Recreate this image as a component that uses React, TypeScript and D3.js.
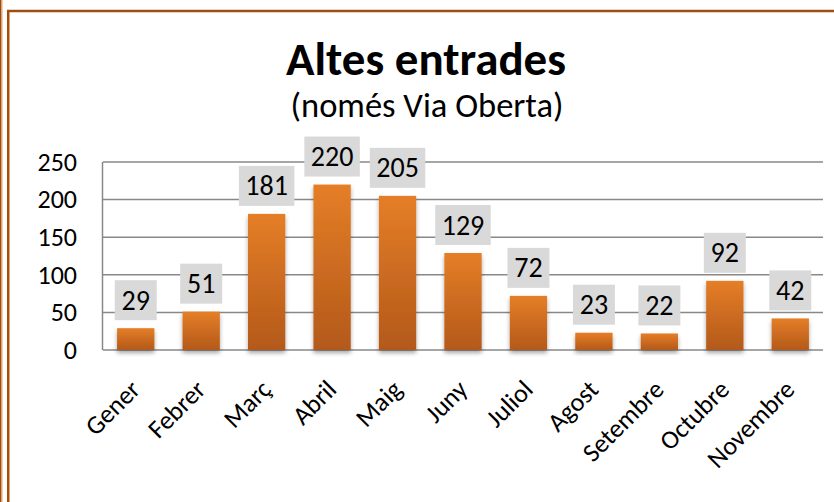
import React from "react";
import * as d3 from "d3";

const categories = ["Gener", "Febrer", "Març", "Abril", "Maig", "Juny", "Juliol", "Agost", "Setembre", "Octubre", "Novembre"];
const values = [29, 51, 181, 220, 205, 129, 72, 23, 22, 92, 42];
const yTicks = [0, 50, 100, 150, 200, 250];
const titleText = "Altes entrades";
const subtitleText = "(només Via Oberta)";

const W = 834;
const H = 502;
const FONT = "Carlito, Lato, 'Open Sans', sans-serif";

export default function App() {
  const x = d3.scaleBand<string>().domain(categories).range([103, 823]).paddingInner(0.43).paddingOuter(0.215);
  const y = d3.scaleLinear().domain([0, 250]).range([350, 162]);
  const data = categories.map((c, i) => ({ c, v: values[i] }));

  return (
    <svg width={W} height={H} style={{ position: "fixed", left: 0, top: 0, background: "#fff" }} fontFamily={FONT}>
      <defs>
        <linearGradient id="barGrad" x1="0" y1="0" x2="0" y2="1">
          <stop offset="0%" stopColor="#e57e27" />
          <stop offset="100%" stopColor="#b3591a" />
        </linearGradient>
        <filter id="shadow" x="-20%" y="-20%" width="140%" height="150%">
          <feDropShadow dx="0" dy="3" stdDeviation="2" floodColor="#000" floodOpacity="0.35" />
        </filter>
      </defs>

      {/* frame */}
      <line x1={0.75} y1={0} x2={0.75} y2={H} stroke="#a04e10" strokeWidth={1.5} />
      <line x1={2} y1={0} x2={2} y2={H} stroke="#e6a46e" strokeWidth={1} />
      <line x1={8} y1={10} x2={8} y2={H} stroke="#a04e10" strokeWidth={2} />
      <line x1={9.5} y1={12} x2={9.5} y2={H} stroke="#e6a46e" strokeWidth={1} />
      <line x1={7} y1={11} x2={W} y2={11} stroke="#a04e10" strokeWidth={2.5} />

      {/* title */}
      <text x={426} y={75} textAnchor="middle" fontSize={47} fontWeight="bold" fill="#000">{titleText}</text>
      <text x={427} y={117} textAnchor="middle" fontSize={34.5} fill="#000">{subtitleText}</text>

      {/* gridlines */}
      {yTicks.map((t) => (
        <line key={t} x1={103} x2={823} y1={y(t)} y2={y(t)} stroke="#888" strokeWidth={1.5} />
      ))}
      <line x1={102.5} x2={102.5} y1={y(250)} y2={y(0)} stroke="#888" strokeWidth={1.5} />

      {/* y tick labels */}
      {yTicks.map((t) => (
        <text key={t} x={77} y={y(t)} dy="0.34em" textAnchor="end" fontSize={26} fill="#000">{t}</text>
      ))}

      {/* bars */}
      {data.map((d) => (
        <rect key={d.c} x={x(d.c)} y={y(d.v)} width={x.bandwidth()} height={y(0) - y(d.v)} fill="url(#barGrad)" filter="url(#shadow)" />
      ))}

      {/* data labels */}
      {data.map((d) => {
        const txt = String(d.v);
        const bw = txt.length * 13.5 + 15;
        const cx = (x(d.c) as number) + x.bandwidth() / 2;
        const bottom = y(d.v) - 8;
        const bh = 40;
        return (
          <g key={d.c}>
            <rect x={cx - bw / 2} y={bottom - bh} width={bw} height={bh} fill="#d9d9d9" />
            <text x={cx} y={bottom - bh / 2} dy="0.34em" textAnchor="middle" fontSize={28} fill="#000">{txt}</text>
          </g>
        );
      })}

      {/* x labels */}
      {data.map((d) => {
        const cx = (x(d.c) as number) + x.bandwidth() / 2;
        return (
          <text key={d.c} transform={`translate(${cx + 6},${391}) rotate(-45)`} textAnchor="end" fontSize={26} fill="#000">{d.c}</text>
        );
      })}
    </svg>
  );
}
